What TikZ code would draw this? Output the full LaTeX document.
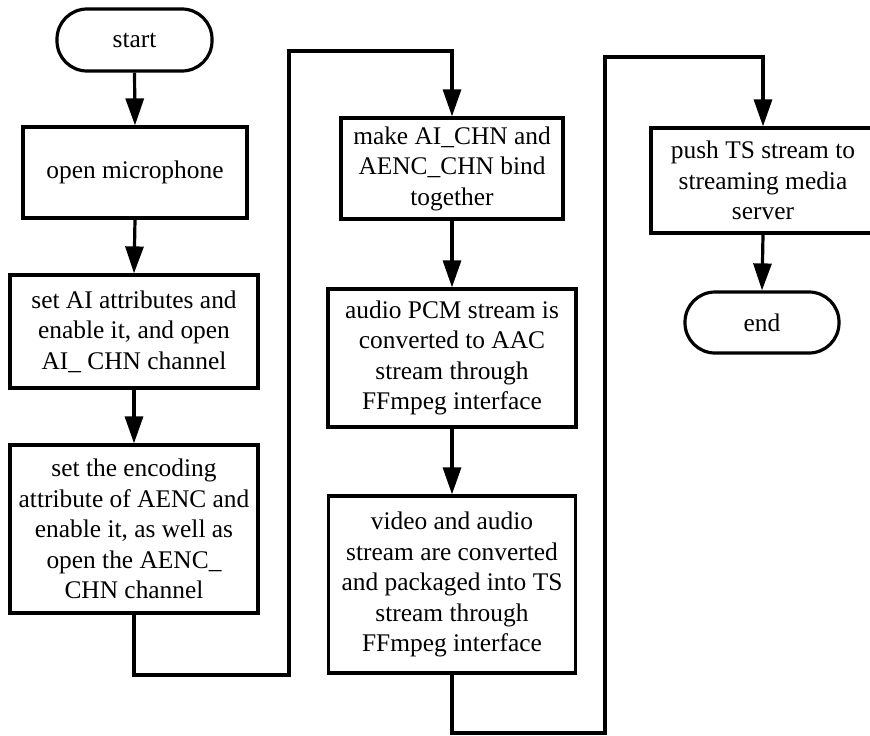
\documentclass[tikz,border=0pt]{standalone}
\usepackage{fontspec}
\setmainfont{Liberation Serif}
\usetikzlibrary{arrows.meta}
\begin{document}
\begin{tikzpicture}[x=1pt,y=-1pt,
  every node/.style={font=\fontsize{25.4}{30.5}\selectfont},
  proc/.style={draw,line width=3.2pt,rectangle,align=center,inner sep=0pt},
  term/.style={draw,line width=3.2pt,rectangle,rounded corners=30pt,inner sep=0pt},
  flow/.style={line width=3.2pt,-{Triangle[width=18pt,length=27pt]}},
  link/.style={line width=3.2pt}]
\useasboundingbox (0,0) rectangle (870,736);
\node[term,minimum width=155pt,minimum height=62pt] (start) at (134.5,40) {start};
\node[proc,minimum width=224pt,minimum height=91pt] (b1) at (135,172.5) {open microphone};
\node[proc,minimum width=248pt,minimum height=113pt] (b2) at (134,331.5) {set AI attributes and\\enable it, and open\\AI\_ CHN channel};
\node[proc,minimum width=248pt,minimum height=168pt] (b3) at (134,529) {set the encoding\\attribute of AENC and\\enable it, as well as\\open the AENC\_\\CHN channel};
\node[proc,minimum width=222pt,minimum height=101pt] (b4) at (452,168.5) {make AI\_CHN and\\AENC\_CHN bind\\together};
\node[proc,minimum width=248pt,minimum height=138pt] (b5) at (452,358) {audio PCM stream is\\converted to AAC\\stream through\\FFmpeg interface};
\node[proc,minimum width=247pt,minimum height=177pt] (b6) at (452,584.5) {video and audio\\stream are converted\\and packaged into TS\\stream through\\FFmpeg interface};
\node[proc,minimum width=224pt,minimum height=105pt] (b7) at (763,180.5) {push TS stream to\\streaming media\\server};
\node[term,minimum width=154pt,minimum height=61pt] (end) at (762,322.5) {end};
\coordinate (l1a) at (134,675);
\coordinate (l1b) at (289,675);
\coordinate (l1c) at (289,51);
\coordinate (l1d) at (452,51);
\coordinate (l2a) at (452,733);
\coordinate (l2b) at (605,733);
\coordinate (l2c) at (605,57);
\coordinate (l2d) at (763,57);
\draw[flow] (start.south) -- (b1.north);
\draw[flow] (b1.south) -- (b2.north);
\draw[flow] (b2.south) -- (b3.north);
\draw[flow,line join=miter] (b3.south) -- (l1a) -- (l1b) -- (l1c) -- (l1d) -- (b4.north);
\draw[flow] (b4.south) -- (b5.north);
\draw[flow] (b5.south) -- (b6.north);
\draw[flow,line join=miter] (b6.south) -- (l2a) -- (l2b) -- (l2c) -- (l2d) -- (b7.north);
\draw[flow] (b7.south) -- (end.north);
\end{tikzpicture}
\end{document}
